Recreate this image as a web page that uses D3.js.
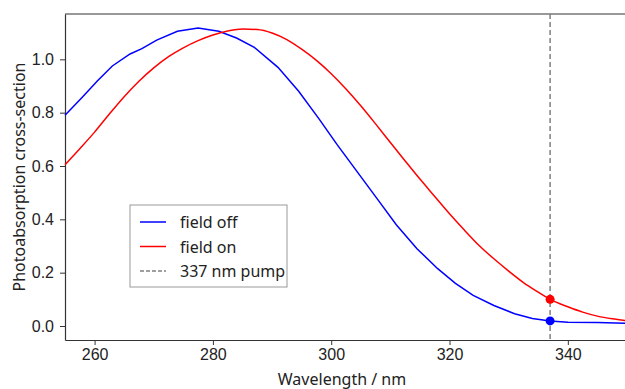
<!DOCTYPE html>
<html>
<head>
<meta charset="utf-8">
<script src="https://cdn.jsdelivr.net/npm/d3@7"></script>
<style>
  html, body { margin: 0; padding: 0; background: #fff; }
  svg { display: block; font-family: "Noto Sans", "DejaVu Sans", sans-serif; }
</style>
</head>
<body>
<div id="chart"></div>
<script>
// field off (blue)
const offWavelength = [255, 258, 260.5, 263, 266, 268, 270.5, 274, 277.5, 281, 284, 287, 291, 294.5, 298, 301, 304.5, 308, 311, 314.5, 318, 321, 324, 327.5, 331, 334, 337, 340, 345, 350];
const offValues = [0.79, 0.86, 0.92, 0.975, 1.02, 1.04, 1.072, 1.105, 1.117, 1.105, 1.08, 1.045, 0.97, 0.88, 0.775, 0.68, 0.575, 0.47, 0.38, 0.29, 0.215, 0.16, 0.115, 0.077, 0.046, 0.028, 0.019, 0.014, 0.013, 0.010];

// field on (red)
const onWavelength = [255, 257.5, 260, 262.5, 265, 267.5, 270, 272.5, 275, 277.5, 280, 282.5, 285, 287.5, 290, 292.5, 295, 297.5, 300, 302.5, 305, 307.5, 310, 312.5, 315, 317.5, 320, 322.5, 325, 327.5, 330, 332.5, 335, 337, 340, 342.5, 345, 347.5, 350];
const onValues = [0.605, 0.665, 0.727, 0.795, 0.86, 0.918, 0.968, 1.01, 1.043, 1.07, 1.091, 1.106, 1.114, 1.112, 1.099, 1.074, 1.038, 0.996, 0.946, 0.889, 0.826, 0.758, 0.688, 0.619, 0.551, 0.486, 0.421, 0.36, 0.302, 0.252, 0.206, 0.163, 0.127, 0.10, 0.072, 0.052, 0.037, 0.027, 0.02];

const pumpWavelength = 337;
const pumpValues = [0.019, 0.10]; // off, on

const xTicks = [260, 280, 300, 320, 340];
const yTicks = [0.0, 0.2, 0.4, 0.6, 0.8, 1.0];

const legendLabels = ['field off', 'field on', '337 nm pump'];

const width = 625, height = 389;
const margin = { top: 14, right: -2, bottom: 49, left: 65 };

const svg = d3.select('#chart').append('svg')
  .attr('width', width)
  .attr('height', height);

const x = d3.scaleLinear()
  .domain([255, 350])
  .range([margin.left, width - margin.right]);

const y = d3.scaleLinear()
  .domain([-0.0525, 1.17])
  .range([height - margin.bottom, margin.top]);

const axisColor = '#333';

// axes
const xAxis = svg.append('g')
  .attr('transform', `translate(0,${height - margin.bottom})`)
  .call(d3.axisBottom(x).tickValues(xTicks).tickFormat(d3.format('d'))
    .tickSizeInner(5).tickSizeOuter(0).tickPadding(4));

const yAxis = svg.append('g')
  .attr('transform', `translate(${margin.left},0)`)
  .call(d3.axisLeft(y).tickValues(yTicks).tickFormat(d3.format('.1f'))
    .tickSizeInner(5).tickSizeOuter(0).tickPadding(6));

[xAxis, yAxis].forEach(g => {
  g.select('.domain').attr('stroke', axisColor).attr('stroke-width', 1.2);
  g.selectAll('.tick line').attr('stroke', axisColor).attr('stroke-width', 1);
  g.selectAll('.tick text').attr('fill', '#222').style('font-size', '16px');
});

// top spine
svg.append('line')
  .attr('x1', margin.left).attr('x2', width - margin.right)
  .attr('y1', margin.top).attr('y2', margin.top)
  .attr('stroke', axisColor).attr('stroke-width', 1.2);

// axis labels
svg.append('text')
  .attr('x', 342)
  .attr('y', 385)
  .attr('text-anchor', 'middle')
  .attr('fill', '#222')
  .style('font-size', '16px')
  .text('Wavelength / nm');

svg.append('text')
  .attr('transform', `translate(25,${(margin.top + height - margin.bottom) / 2}) rotate(-90)`)
  .attr('text-anchor', 'middle')
  .attr('fill', '#222')
  .style('font-size', '16px')
  .text('Photoabsorption cross-section');

// pump line
svg.append('line')
  .attr('x1', x(pumpWavelength)).attr('x2', x(pumpWavelength))
  .attr('y1', margin.top).attr('y2', height - margin.bottom)
  .attr('stroke', '#808080')
  .attr('stroke-width', 1.5)
  .attr('stroke-dasharray', '5,3');

const offData = offWavelength.map((w, i) => [w, offValues[i]]);
const onData = onWavelength.map((w, i) => [w, onValues[i]]);

svg.append('path')
  .datum(offData)
  .attr('d', d3.line().x(d => x(d[0])).y(d => y(d[1])))
  .attr('fill', 'none')
  .attr('stroke', '#0000ff')
  .attr('stroke-width', 1.5);

svg.append('path')
  .datum(onData)
  .attr('d', d3.line().x(d => x(d[0])).y(d => y(d[1])).curve(d3.curveMonotoneX))
  .attr('fill', 'none')
  .attr('stroke', '#ff0000')
  .attr('stroke-width', 1.5);

svg.selectAll('circle.pump')
  .data(pumpValues)
  .enter().append('circle')
  .attr('class', 'pump')
  .attr('cx', x(pumpWavelength))
  .attr('cy', d => y(d))
  .attr('r', 4.5)
  .attr('fill', (d, i) => i === 0 ? '#0000ff' : '#ff0000');

// legend
const legend = svg.append('g').attr('transform', 'translate(130,205)');

legend.append('rect')
  .attr('width', 157)
  .attr('height', 82)
  .attr('fill', '#fff')
  .attr('stroke', '#999')
  .attr('stroke-width', 1);

const legendStyles = [
  { color: '#0000ff', dash: null },
  { color: '#ff0000', dash: null },
  { color: '#808080', dash: '4,2' },
];

legendLabels.forEach((label, i) => {
  const ly = 17 + i * 24.5;
  legend.append('line')
    .attr('x1', 10).attr('x2', 36)
    .attr('y1', ly).attr('y2', ly)
    .attr('stroke', legendStyles[i].color)
    .attr('stroke-width', 1.5)
    .attr('stroke-dasharray', legendStyles[i].dash);
  legend.append('text')
    .attr('x', 50)
    .attr('y', ly + 6)
    .attr('fill', '#222')
    .style('font-size', '16px')
    .text(label);
});
</script>
</body>
</html>
